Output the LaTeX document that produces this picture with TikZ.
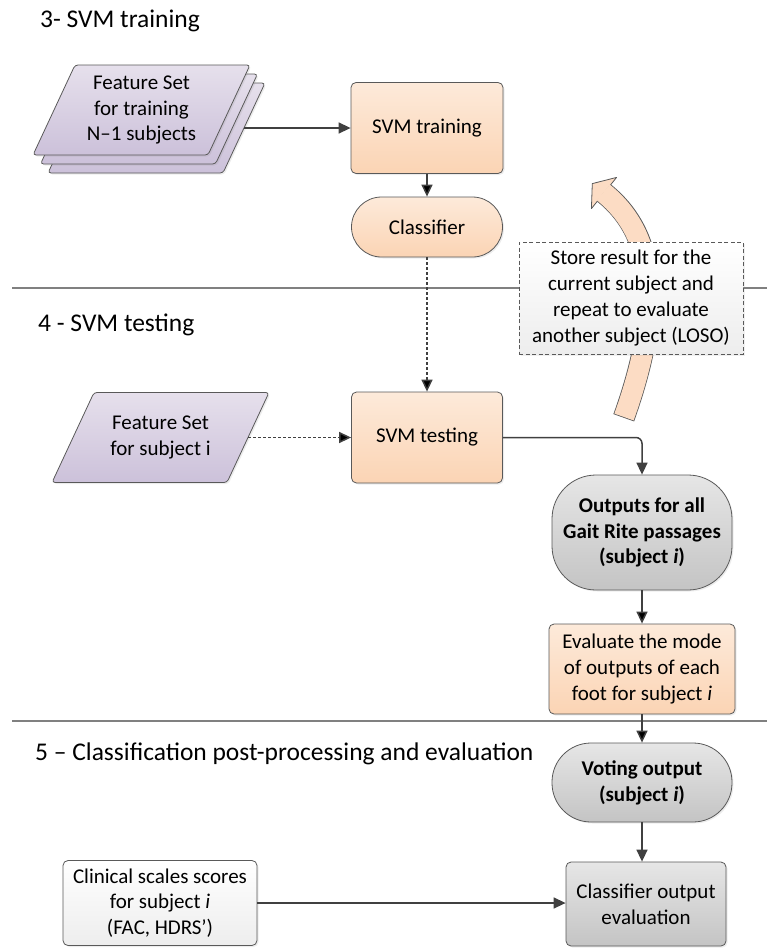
\documentclass[tikz,border=0pt]{standalone}
\usepackage{fontspec}
\setmainfont{Carlito}
\usetikzlibrary{arrows.meta,shadows}

\begin{document}
\begin{tikzpicture}[x=1pt,y=1pt]
\newcommand{\xpx}{1}
\newcommand{\ypx}{-1}
\definecolor{peachtop}{RGB}{253,234,218}
\definecolor{peachbot}{RGB}{251,212,180}
\definecolor{lilactop}{RGB}{230,224,236}
\definecolor{lilacbot}{RGB}{204,193,218}
\definecolor{greytop}{RGB}{230,230,230}
\definecolor{greybot}{RGB}{196,196,196}
\definecolor{edgegrey}{RGB}{89,89,89}
\definecolor{arrowgrey}{RGB}{64,64,64}
\definecolor{linegrey}{RGB}{128,128,128}
\definecolor{loopfill}{RGB}{252,220,196}
\tikzstyle{txt}=[font=\fontsize{21}{25.8}\selectfont,align=center,text=black]
\tikzstyle{txtbold}=[font=\fontsize{21}{25.8}\selectfont\bfseries]
\tikzstyle{shade}=[drop shadow={opacity=0.15,shadow xshift=1.5pt,shadow yshift=-1.5pt}]
\tikzstyle{box}=[txt,draw=edgegrey,line width=0.8pt,rounded corners=5pt,inner sep=2pt,shade]
\tikzstyle{peachfill}=[top color=peachtop,bottom color=peachbot]
\tikzstyle{lilacfill}=[top color=lilactop,bottom color=lilacbot]
\tikzstyle{greyfill}=[top color=greytop,bottom color=greybot]
\tikzstyle{whitefill}=[top color=white,bottom color=black!7]
\tikzstyle{dataset}=[draw=edgegrey,line width=0.8pt,rounded corners=3pt,lilacfill,shade]
\tikzstyle{flow}=[draw=arrowgrey,line width=1.5pt,-{Triangle[length=12pt,width=11pt]}]
\tikzstyle{dotflow}=[flow,dash pattern=on 3pt off 2pt]
\tikzstyle{sepline}=[draw=linegrey,line width=1.2pt]
\tikzstyle{heading}=[anchor=base west,font=\fontsize{25.5}{30}\selectfont,inner sep=0pt]
% parallelogram of 217 x 90 centred at (#1,#2)
\newcommand{\pgram}[2]{\path[dataset] (\xpx*#1-108.5,\ypx*#2+\ypx*45) -- (\xpx*#1+66.5,\ypx*#2+\ypx*45) -- (\xpx*#1+108.5,\ypx*#2-\ypx*45) -- (\xpx*#1-66.5,\ypx*#2-\ypx*45) -- cycle;}
\useasboundingbox (\xpx*0,\ypx*0) rectangle (\xpx*767,\ypx*948);
% section separators
\draw[sepline] (\xpx*12,\ypx*288) -- (\xpx*767,\ypx*288);
\draw[sepline] (\xpx*12,\ypx*721) -- (\xpx*767,\ypx*721);
\node[heading] (head3) at (\xpx*40,\ypx*27) {3- SVM training};
\node[heading] (head4) at (\xpx*38,\ypx*331) {4 - SVM testing};
\node[heading] (head5) at (\xpx*35,\ypx*760) {5 – Classification post-processing and evaluation};
% training
\pgram{156.5}{128}
\pgram{149}{119}
\pgram{141.5}{110}
\node[txt,minimum width=175pt] (trainset3) at (\xpx*156.5,\ypx*128) {};
\node[txt,minimum width=175pt] (trainset) at (\xpx*141.5,\ypx*110) {Feature Set\\for training\\N–1 subjects};
\node[box,peachfill,minimum width=152pt,minimum height=91pt] (svmtrain) at (\xpx*427,\ypx*128) {SVM training};
\node[box,peachfill,rounded corners=30pt,minimum width=151pt,minimum height=60pt] (classifier) at (\xpx*427,\ypx*227) {Classifier};
% loop back arrow
\coordinate (loopstart) at (\xpx*624,\ypx*417);
\coordinate (loopend) at (\xpx*604,\ypx*193);
\draw[draw=edgegrey,line width=22pt,shorten <=-0.8pt] (loopstart) .. controls (\xpx*661,\ypx*314) and (\xpx*659,\ypx*237) .. (loopend);
\filldraw[fill=loopfill,draw=edgegrey,line width=0.8pt,line join=round] (\xpx*616.6,\ypx*177.4) -- (\xpx*592.3,\ypx*183.6) -- (\xpx*591.4,\ypx*208.6) -- cycle;
\draw[draw=loopfill,line width=20.4pt,shorten >=-1pt] (loopstart) .. controls (\xpx*661,\ypx*314) and (\xpx*659,\ypx*237) .. (loopend);
\node[txt,draw=edgegrey,line width=0.8pt,dash pattern=on 4pt off 2.5pt,whitefill,minimum width=224pt,minimum height=112pt,drop shadow={opacity=0.12,shadow xshift=1.5pt,shadow yshift=-1.5pt}] (note) at (\xpx*631,\ypx*298) {Store result for the\\current subject and\\repeat to evaluate\\another subject (LOSO)};
% testing
\pgram{160.5}{437.5}
\node[txt,minimum width=175pt] (testset) at (\xpx*160.5,\ypx*437.5) {Feature Set\\for subject i};
\node[box,peachfill,minimum width=151pt,minimum height=91pt] (svmtest) at (\xpx*427,\ypx*437.5) {SVM testing};
\node[box,greyfill,txtbold,rounded corners=44pt,minimum width=180pt,minimum height=115pt] (outputs) at (\xpx*642,\ypx*532.5) {Outputs for all\\Gait Rite passages\\(subject \textit{i})};
\node[box,peachfill,minimum width=186pt,minimum height=90pt] (evalmode) at (\xpx*642,\ypx*669) {Evaluate the mode\\of outputs of each\\foot for subject \textit{i}};
% post-processing
\node[box,greyfill,txtbold,rounded corners=39pt,minimum width=180pt,minimum height=79pt] (voting) at (\xpx*642,\ypx*782.5) {Voting output\\(subject \textit{i})};
\node[box,greyfill,minimum width=160pt,minimum height=84pt] (clfeval) at (\xpx*646,\ypx*904) {Classifier output\\evaluation};
\node[box,whitefill,minimum width=194pt,minimum height=85pt] (clinical) at (\xpx*160,\ypx*903) {Clinical scales scores\\for subject \textit{i}\\(FAC, HDRS’)};
\draw[flow] (trainset3.east) -- (svmtrain.west);
\draw[flow] (svmtrain) edge (classifier);
\draw[dotflow] (classifier) edge (svmtest);
\draw[dotflow] (testset) edge (svmtest);
\draw[flow,rounded corners=6pt] (svmtest.east) -| (outputs.north);
\draw[flow] (outputs) edge (evalmode);
\draw[flow] (evalmode) edge (voting);
\draw[flow] (voting.south) -- (voting.south |- clfeval.north);
\draw[flow] (clinical.east) -- (clinical.east -| clfeval.west);
\end{tikzpicture}
\end{document}
